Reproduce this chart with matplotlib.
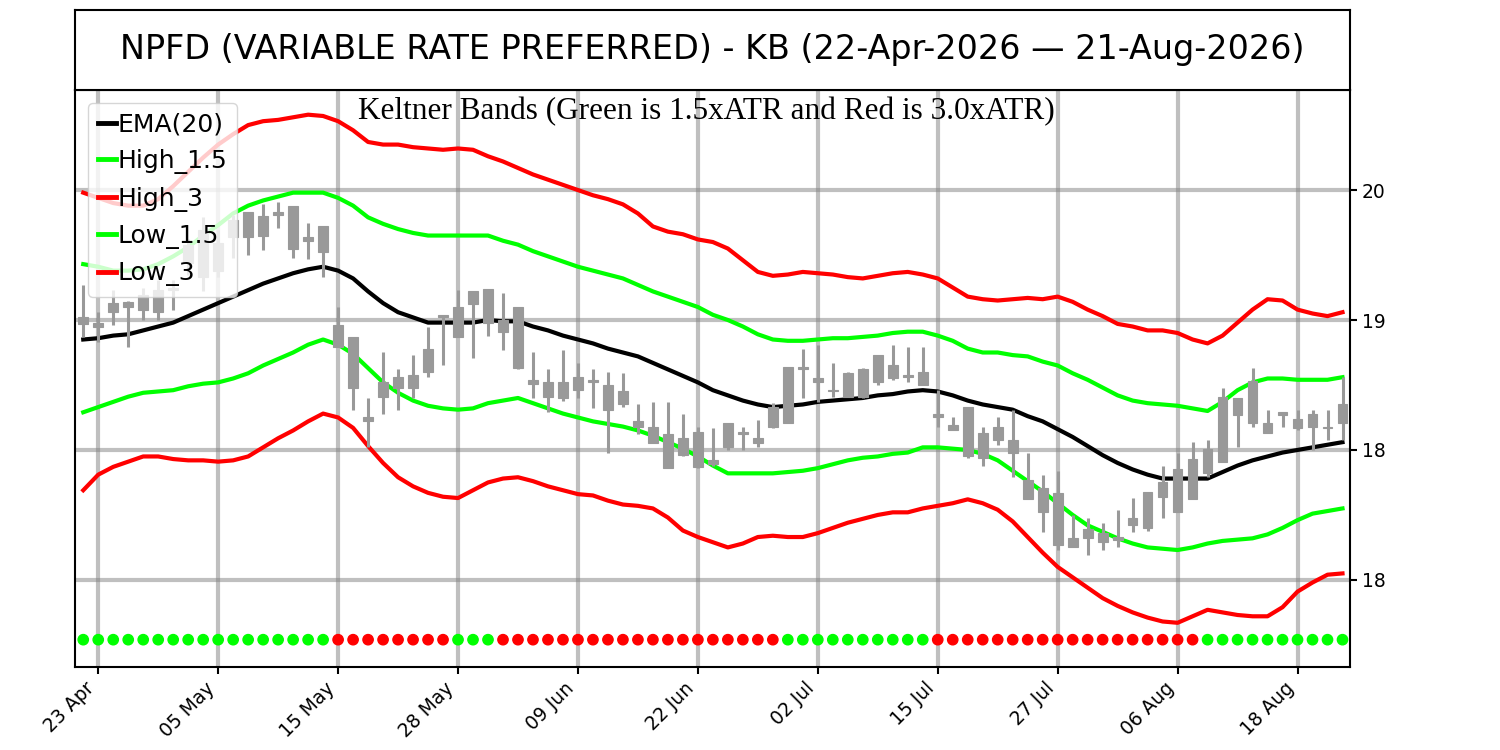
import numpy as np
import pandas as pd
import matplotlib
matplotlib.use('Agg')
import matplotlib.pyplot as plt

# trading days (US market holidays removed)
holidays = ['2026-05-25', '2026-06-19', '2026-07-03']
dates = pd.bdate_range('2026-04-22', '2026-08-21', freq='C', holidays=holidays)

ema = [18.85, 18.86, 18.88, 18.89, 18.92, 18.95, 18.98, 19.03, 19.08, 19.13,
       19.18, 19.23, 19.28, 19.32, 19.36, 19.39, 19.41, 19.38, 19.32, 19.22,
       19.13, 19.06, 19.02, 18.98, 18.98, 18.98, 18.98, 19.00, 18.99, 18.99,
       18.95, 18.92, 18.88, 18.85, 18.82, 18.78, 18.75, 18.72, 18.67, 18.62,
       18.57, 18.52, 18.46, 18.42, 18.38, 18.35, 18.33, 18.34, 18.35, 18.37,
       18.38, 18.39, 18.40, 18.42, 18.43, 18.45, 18.46, 18.45, 18.42, 18.38,
       18.35, 18.33, 18.31, 18.26, 18.22, 18.16, 18.10, 18.03, 17.96, 17.90,
       17.85, 17.81, 17.78, 17.78, 17.78, 17.78, 17.83, 17.88, 17.92, 17.95,
       17.98, 18.00, 18.02, 18.04, 18.06]

high_3 = [19.98, 19.94, 19.90, 19.88, 19.88, 19.93, 20.03, 20.14, 20.25, 20.35,
          20.43, 20.50, 20.53, 20.54, 20.56, 20.58, 20.57, 20.53, 20.46, 20.37,
          20.35, 20.35, 20.33, 20.32, 20.31, 20.32, 20.31, 20.26, 20.22, 20.17,
          20.12, 20.08, 20.04, 20.00, 19.96, 19.93, 19.89, 19.82, 19.72, 19.68,
          19.66, 19.62, 19.60, 19.55, 19.46, 19.37, 19.34, 19.35, 19.37, 19.36,
          19.35, 19.33, 19.32, 19.34, 19.36, 19.37, 19.35, 19.32, 19.25, 19.18,
          19.16, 19.15, 19.16, 19.17, 19.16, 19.18, 19.14, 19.08, 19.03, 18.97,
          18.95, 18.92, 18.92, 18.90, 18.85, 18.82, 18.88, 18.98, 19.08, 19.16,
          19.15, 19.08, 19.05, 19.03, 19.06]

high_15 = [19.43, 19.41, 19.38, 19.38, 19.39, 19.43, 19.49, 19.56, 19.65, 19.73,
           19.82, 19.88, 19.92, 19.95, 19.98, 19.98, 19.98, 19.94, 19.88, 19.79,
           19.74, 19.70, 19.67, 19.65, 19.65, 19.65, 19.65, 19.65, 19.61, 19.58,
           19.53, 19.49, 19.45, 19.41, 19.38, 19.35, 19.32, 19.27, 19.22, 19.18,
           19.14, 19.10, 19.04, 19.00, 18.95, 18.89, 18.85, 18.84, 18.84, 18.85,
           18.86, 18.86, 18.87, 18.88, 18.90, 18.91, 18.91, 18.88, 18.84, 18.78,
           18.75, 18.75, 18.73, 18.72, 18.68, 18.65, 18.59, 18.54, 18.48, 18.42,
           18.38, 18.36, 18.35, 18.34, 18.32, 18.30, 18.37, 18.46, 18.52, 18.55,
           18.55, 18.54, 18.54, 18.54, 18.56]

low_15 = [18.29, 18.33, 18.37, 18.41, 18.44, 18.45, 18.46, 18.49, 18.51, 18.52,
          18.55, 18.59, 18.65, 18.70, 18.75, 18.81, 18.85, 18.81, 18.74, 18.63,
          18.52, 18.44, 18.38, 18.34, 18.32, 18.31, 18.32, 18.36, 18.38, 18.40,
          18.36, 18.32, 18.28, 18.25, 18.22, 18.20, 18.18, 18.15, 18.11, 18.06,
          18.01, 17.95, 17.88, 17.82, 17.82, 17.82, 17.82, 17.83, 17.84, 17.86,
          17.89, 17.92, 17.94, 17.95, 17.97, 17.98, 18.02, 18.02, 18.01, 18.00,
          17.97, 17.92, 17.84, 17.76, 17.68, 17.59, 17.50, 17.42, 17.37, 17.32,
          17.28, 17.25, 17.24, 17.23, 17.25, 17.28, 17.30, 17.31, 17.32, 17.35,
          17.40, 17.46, 17.51, 17.53, 17.55]

low_3 = [17.69, 17.81, 17.87, 17.91, 17.95, 17.95, 17.93, 17.92, 17.92, 17.91,
         17.92, 17.95, 18.02, 18.09, 18.15, 18.22, 18.28, 18.25, 18.17, 18.03,
         17.90, 17.79, 17.72, 17.67, 17.64, 17.63, 17.69, 17.75, 17.78, 17.79,
         17.76, 17.72, 17.69, 17.66, 17.65, 17.61, 17.58, 17.57, 17.55, 17.48,
         17.38, 17.33, 17.29, 17.25, 17.28, 17.33, 17.34, 17.33, 17.33, 17.36,
         17.40, 17.44, 17.47, 17.50, 17.52, 17.52, 17.55, 17.57, 17.59, 17.62,
         17.59, 17.54, 17.45, 17.33, 17.21, 17.10, 17.02, 16.94, 16.86, 16.80,
         16.75, 16.71, 16.68, 16.67, 16.72, 16.77, 16.75, 16.73, 16.72, 16.72,
         16.79, 16.91, 16.98, 17.04, 17.05]

# daily candles
opens = [18.97, 18.95, 19.06, 19.10, 19.08, 19.06, 19.23, 19.44, 19.33, 19.38,
         19.64, 19.64, 19.65, 19.81, 19.55, 19.61, 19.52, 18.96, 18.87, 18.25,
         18.52, 18.56, 18.58, 18.60, 19.02, 18.87, 19.12, 18.98, 18.91, 19.10,
         18.54, 18.52, 18.52, 18.56, 18.54, 18.50, 18.45, 18.22, 18.18, 18.12,
         18.09, 18.14, 17.92, 18.21, 18.14, 18.09, 18.18, 18.21, 18.62, 18.52,
         18.45, 18.41, 18.41, 18.52, 18.55, 18.56, 18.50, 18.28, 18.19, 18.33,
         18.13, 18.18, 18.08, 17.77, 17.71, 17.67, 17.32, 17.39, 17.36, 17.33,
         17.48, 17.68, 17.75, 17.85, 17.62, 17.82, 17.91, 18.27, 18.21, 18.13,
         18.27, 18.17, 18.18, 18.17, 18.21]
closes = [19.02, 18.98, 19.13, 19.14, 19.19, 19.23, 19.25, 19.58, 19.69, 19.59,
          19.77, 19.83, 19.80, 19.83, 19.88, 19.64, 19.72, 18.79, 18.48, 18.22,
          18.41, 18.48, 18.48, 18.78, 19.04, 19.10, 19.22, 19.24, 19.00, 18.63,
          18.51, 18.41, 18.40, 18.46, 18.52, 18.31, 18.35, 18.18, 18.05, 17.86,
          17.96, 17.87, 17.89, 18.02, 18.12, 18.05, 18.33, 18.64, 18.64, 18.55,
          18.46, 18.59, 18.62, 18.73, 18.65, 18.58, 18.60, 18.25, 18.15, 17.95,
          17.94, 18.08, 17.98, 17.62, 17.52, 17.27, 17.25, 17.32, 17.29, 17.31,
          17.42, 17.40, 17.64, 17.52, 17.93, 18.01, 18.41, 18.40, 18.53, 18.21,
          18.29, 18.24, 18.28, 18.18, 18.35]
highs = [19.27, 19.06, 19.23, 19.15, 19.25, 19.31, 19.31, 19.62, 19.79, 19.69,
         19.81, 19.83, 19.89, 19.91, 19.88, 19.75, 19.72, 19.10, 18.87, 18.40,
         18.75, 18.62, 18.73, 18.95, 19.04, 19.23, 19.22, 19.24, 19.21, 19.10,
         18.75, 18.62, 18.77, 18.67, 18.62, 18.60, 18.59, 18.35, 18.37, 18.37,
         18.28, 18.18, 18.17, 18.21, 18.18, 18.23, 18.36, 18.64, 18.78, 18.81,
         18.67, 18.60, 18.63, 18.73, 18.81, 18.79, 18.79, 18.46, 18.25, 18.33,
         18.18, 18.25, 18.31, 17.98, 17.81, 17.84, 17.50, 17.48, 17.44, 17.54,
         17.63, 17.68, 17.88, 17.98, 18.06, 18.08, 18.48, 18.40, 18.63, 18.31,
         18.29, 18.31, 18.31, 18.31, 18.56]
lows = [18.87, 18.83, 18.96, 18.79, 19.00, 19.00, 19.08, 19.35, 19.22, 19.33,
        19.48, 19.50, 19.54, 19.71, 19.48, 19.47, 19.33, 18.79, 18.31, 18.02,
        18.28, 18.31, 18.40, 18.56, 18.65, 18.87, 18.71, 18.88, 18.77, 18.62,
        18.40, 18.29, 18.38, 18.40, 18.32, 17.98, 18.33, 18.12, 18.05, 17.86,
        17.95, 17.86, 17.88, 18.00, 18.00, 18.02, 18.17, 18.21, 18.40, 18.37,
        18.41, 18.41, 18.40, 18.50, 18.54, 18.52, 18.50, 18.18, 18.15, 17.94,
        17.88, 18.04, 17.79, 17.62, 17.37, 17.23, 17.25, 17.19, 17.23, 17.25,
        17.37, 17.38, 17.48, 17.52, 17.62, 17.79, 17.91, 18.02, 18.18, 18.13,
        18.18, 18.15, 18.00, 18.08, 18.08]

# signal dots along the bottom: (colour, number of days)
dot_runs = [('#00ff00', 17), ('#ff0000', 8), ('#00ff00', 3), ('#ff0000', 19),
            ('#00ff00', 10), ('#ff0000', 18), ('#00ff00', 10)]
dot_level = 16.54

ytick_vals = [17, 18, 19, 20]
ytick_labels = ['18', '18', '19', '20']

x = np.arange(len(dates))
dot_colors = [c for c, n in dot_runs for _ in range(n)]

fig = plt.figure(figsize=(15, 7.5), dpi=100)
ax = fig.add_axes([0.05, 0.1107, 0.85, 0.7693])

ax.set_axisbelow(True)
ax.grid(True, color='gray', alpha=0.5, lw=3)

ax.plot(x, ema, color='black', lw=3, label='EMA(20)', zorder=2)
ax.plot(x, high_15, color='#00ff00', lw=3, label='High_1.5', zorder=2)
ax.plot(x, high_3, color='#ff0000', lw=3, label='High_3', zorder=2)
ax.plot(x, low_15, color='#00ff00', lw=3, label='Low_1.5', zorder=2)
ax.plot(x, low_3, color='#ff0000', lw=3, label='Low_3', zorder=2)

# candles, all drawn in grey
o = np.array(opens)
c = np.array(closes)
ax.vlines(x, lows, highs, color='#999999', lw=2.2, zorder=3)
ax.bar(x, c - o, bottom=o, width=0.65, color='#999999',
       edgecolor='#999999', linewidth=0.8, zorder=3)

ax.scatter(x, [dot_level] * len(x), c=dot_colors, s=55, zorder=3)

ax.text(0.495, 0.988, 'Keltner Bands (Green is 1.5xATR and Red is 3.0xATR)',
        transform=ax.transAxes, ha='center', va='top',
        family='Liberation Serif', fontsize=22.5)

leg = ax.legend(loc='upper left', fontsize=18, handlelength=0.75,
                handletextpad=0.05, borderpad=0.4, labelspacing=0.5)
for h in leg.get_lines():
    h.set_linewidth(3.5)

ax.set_xlim(-0.55, 84.5)
ax.set_ylim(16.33, 20.77)
ax.yaxis.tick_right()
ax.set_yticks(ytick_vals)
ax.set_yticklabels(ytick_labels)
tick_pos = x[1::8]
ax.set_xticks(tick_pos)
ax.set_xticklabels([dates[i].strftime('%d %b') for i in tick_pos],
                   rotation=45, ha='right')
ax.tick_params(labelsize=13.5, length=5, width=1.5)
for s in ax.spines.values():
    s.set_linewidth(1.5)

# title box
tax = fig.add_axes([0.05, 0.88, 0.85, 0.1067])
tax.set_xticks([])
tax.set_yticks([])
for s in tax.spines.values():
    s.set_linewidth(1.5)
title = 'NPFD (VARIABLE RATE PREFERRED) - KB ({} \u2014 {})'.format(
    dates[0].strftime('%d-%b-%Y'), dates[-1].strftime('%d-%b-%Y'))
tax.text(0.5, 0.5, title, ha='center', va='center', fontsize=24)

fig.savefig('out.png', dpi=100)
